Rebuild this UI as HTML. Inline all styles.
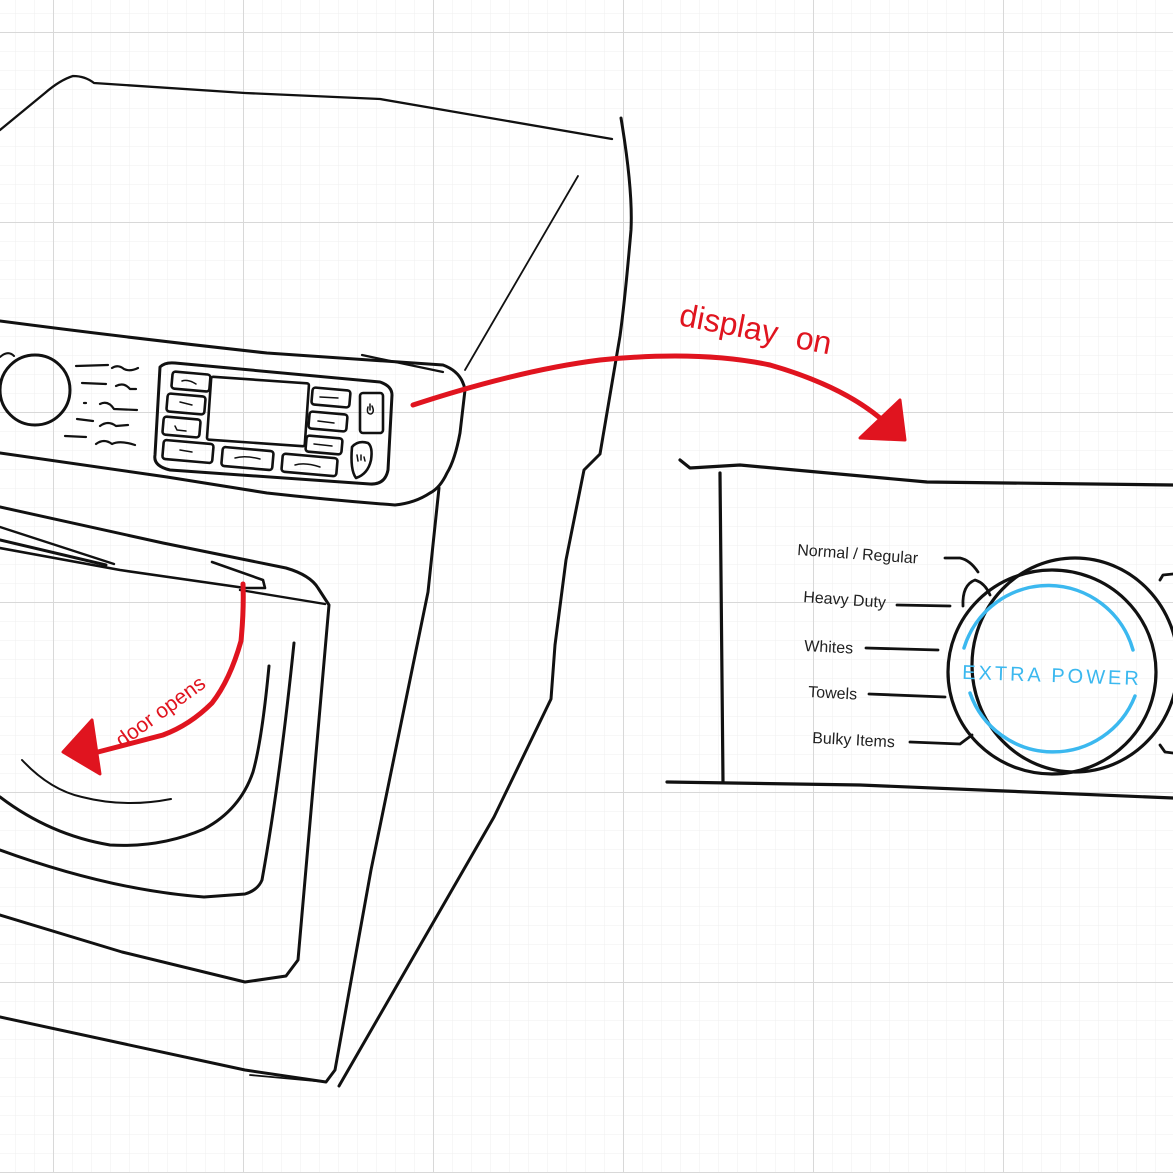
<!DOCTYPE html>
<html><head><meta charset="utf-8"><style>
html,body{margin:0;padding:0;background:#fff}
svg{display:block}
</style></head><body>
<svg width="1173" height="1173" viewBox="0 0 1173 1173" xmlns="http://www.w3.org/2000/svg">
<defs>
<pattern id="minor" width="19" height="19" patternUnits="userSpaceOnUse" x="53" y="32">
<path d="M0 0H19M0 0V19" stroke="#efefef" stroke-width="1" fill="none"/>
</pattern>
<pattern id="major" width="190" height="190" patternUnits="userSpaceOnUse" x="53" y="32">
<path d="M0 0H190M0 0V190" stroke="#d8d8d8" stroke-width="2" fill="none"/>
</pattern>
</defs>
<rect width="1173" height="1173" fill="#fff"/>
<rect width="1173" height="1173" fill="url(#minor)"/>
<rect width="1173" height="1173" fill="url(#major)"/>

<g fill="none" stroke="#111" stroke-width="3" stroke-linecap="round" stroke-linejoin="round">
<path d="M0 130 L45 93 Q60 80 73 76 Q85 76 94 83 L245 93 L380 99 L612 139" stroke-width="2.3"/>
<path d="M621 118 Q633 190 631 230 Q625 300 620 336 L600 454 L584 470 L566 560 L555 645 L551 699 L494 817 L339 1086"/>
<path d="M578 176 L465 370" stroke-width="1.8"/>
<path d="M0 321 Q130 338 267 353 L443 365 Q462 372 465 390 L460 433 Q455 460 447 473 Q440 488 430 493 Q415 503 395 505 Q330 500 267 493 L167 477 L0 453"/>
<path d="M362 355 L443 372" stroke-width="2.2"/>
<circle cx="35" cy="390" r="35"/>
<path d="M0 357 Q8 350 14 356" stroke-width="2"/>
<g stroke-width="2.2">
<path d="M76 366 L108 365 M112 368 Q118 364 124 369 Q130 372 138 368"/>
<path d="M82 383 L106 384 M116 386 Q124 382 130 389 L136 389"/>
<path d="M84 403 L86 403 M100 404 Q108 400 114 409 L137 410"/>
<path d="M77 419 L93 421 M100 426 Q108 420 116 426 L128 425"/>
<path d="M65 436 L86 437 M96 444 Q104 438 112 444 Q120 440 135 445"/>
</g>
<path d="M160 367 Q165 362 175 363 L380 382 Q392 386 392 395 L388 470 Q385 485 370 484 L170 470 Q153 466 155 455 Z"/>
<g stroke-width="2.6">
<rect x="172" y="373" width="38" height="17" rx="3" transform="rotate(5 190 381)"/>
<rect x="167" y="395" width="38" height="18" rx="3" transform="rotate(5 186 404)"/>
<rect x="163" y="418" width="37" height="18" rx="3" transform="rotate(5 181 427)"/>
<rect x="163" y="442" width="50" height="19" rx="3" transform="rotate(5 188 451)"/>
<rect x="222" y="449" width="51" height="19" rx="3" transform="rotate(5 247 458)"/>
<rect x="282" y="456" width="55" height="18" rx="3" transform="rotate(5 310 465)"/>
<rect x="209" y="380" width="98" height="63" rx="2" transform="rotate(4 258 411)"/>
<rect x="312" y="389" width="38" height="17" rx="3" transform="rotate(5 331 397)"/>
<rect x="309" y="413" width="38" height="17" rx="3" transform="rotate(5 328 421)"/>
<rect x="306" y="437" width="36" height="16" rx="3" transform="rotate(5 324 445)"/>
<rect x="360" y="393" width="23" height="40" rx="3"/>
<path d="M352 447 Q358 440 368 443 Q373 447 371 460 Q368 474 356 478 Q350 470 352 447 Z"/>
</g>
<g stroke-width="1.5">
<path d="M182 381 Q188 379 196 384 M180 402 L192 405 M175 426 L177 430 L186 431 M180 450 L192 452 M235 458 Q245 455 260 459 M295 465 Q305 462 320 467 M320 397 L338 398 M318 421 L334 423 M314 444 L332 446"/>
<path d="M368 407 Q366 414 371 414 Q375 412 372 406 M370 404 L370 410"/>
<path d="M357 455 L358 461 M361 455 L361 460 M364 457 L365 461"/>
</g>
<path d="M0 507 L163 543 L286 568 Q310 575 318 588 L329 605 L298 960 L286 976 L245 982 L122 952 L0 915"/>
<path d="M0 527 L114 564" stroke-width="2.4"/>
<path d="M0 540 L106 565"/>
<path d="M0 548 L120 570 L245 588 L265 588 L263 580 L212 562" stroke-width="2.6"/>
<path d="M240 590 L325 604" stroke-width="2.4"/>
<path d="M294 643 Q280 780 262 880 Q258 890 245 894 L204 897 Q110 890 0 850"/>
<path d="M269 666 Q262 740 253 772 Q240 810 204 829 Q160 848 110 845 Q50 835 0 797"/>
<path d="M22 760 Q50 790 82 797 Q125 808 171 799" stroke-width="2"/>
<path d="M439 488 L428 592 L371 870 L335 1070 L326 1082 L245 1070 L0 1017"/>
<path d="M250 1075 L326 1082" stroke-width="1.8"/>
</g>

<path d="M243 584 Q244 610 241 641 Q230 680 212 703 Q190 725 163 735 L98 752" fill="none" stroke="#e0141f" stroke-width="5" stroke-linecap="round"/>
<path d="M63 752 L92 720 L100 774 Z" fill="#e0141f" stroke="#e0141f" stroke-width="3" stroke-linejoin="round"/>
<text x="0" y="0" transform="translate(122 748) rotate(-36)" font-family="Liberation Sans, sans-serif" font-size="21" fill="#e0141f">door opens</text>

<path d="M413 405 Q520 370 600 360 Q700 350 770 365 Q840 385 880 418" fill="none" stroke="#e0141f" stroke-width="5" stroke-linecap="round"/>
<path d="M860 438 L900 400 L905 440 Z" fill="#e0141f" stroke="#e0141f" stroke-width="3" stroke-linejoin="round"/>
<text x="0" y="0" transform="translate(678 325) rotate(11)" font-family="Liberation Sans, sans-serif" font-size="32" fill="#e0141f">display <tspan dx="10">on</tspan></text>

<g fill="none" stroke="#111" stroke-width="3.2" stroke-linecap="round" stroke-linejoin="round">
<path d="M680 460 L690 468 L740 465 L927 482 L1173 485"/>
<path d="M720 473 L723 782"/>
<path d="M667 782 L860 785 L1173 798"/>
<g stroke-width="2.8">
<path d="M945 558 L960 558 Q970 560 978 572"/>
<path d="M897 605 L950 606"/>
<path d="M866 648 L938 650"/>
<path d="M869 694 L945 697"/>
<path d="M910 742 L960 744 L972 735"/>
<path d="M963 606 Q962 585 975 580 Q985 583 990 595"/>
<path d="M1160 580 L1163 575 L1173 574 M1160 745 L1165 752 L1173 753"/>
</g>
<ellipse cx="1052" cy="672" rx="104" ry="102"/>
<ellipse cx="1075" cy="665" rx="103" ry="107"/>
</g>
<g fill="none" stroke="#3bb8ef" stroke-width="3.5" stroke-linecap="round">
<path d="M964 648 A88 88 0 0 1 1133 650"/>
<path d="M970 693 A88 88 0 0 0 1135 696"/>
</g>
<text x="1052" y="682" text-anchor="middle" font-family="Liberation Sans, sans-serif" font-size="20" letter-spacing="3" fill="#3bb8ef" transform="rotate(2 1052 676)">EXTRA POWER</text>
<g font-family="Liberation Sans, sans-serif" font-size="16" fill="#222">
<text x="797" y="555" transform="rotate(4 797 555)">Normal / Regular</text>
<text x="803" y="602" transform="rotate(4 803 602)">Heavy Duty</text>
<text x="804" y="651" transform="rotate(3 804 651)">Whites</text>
<text x="808" y="697" transform="rotate(3 808 697)">Towels</text>
<text x="812" y="743" transform="rotate(3 812 743)">Bulky Items</text>
</g>
</svg>
</body></html>
